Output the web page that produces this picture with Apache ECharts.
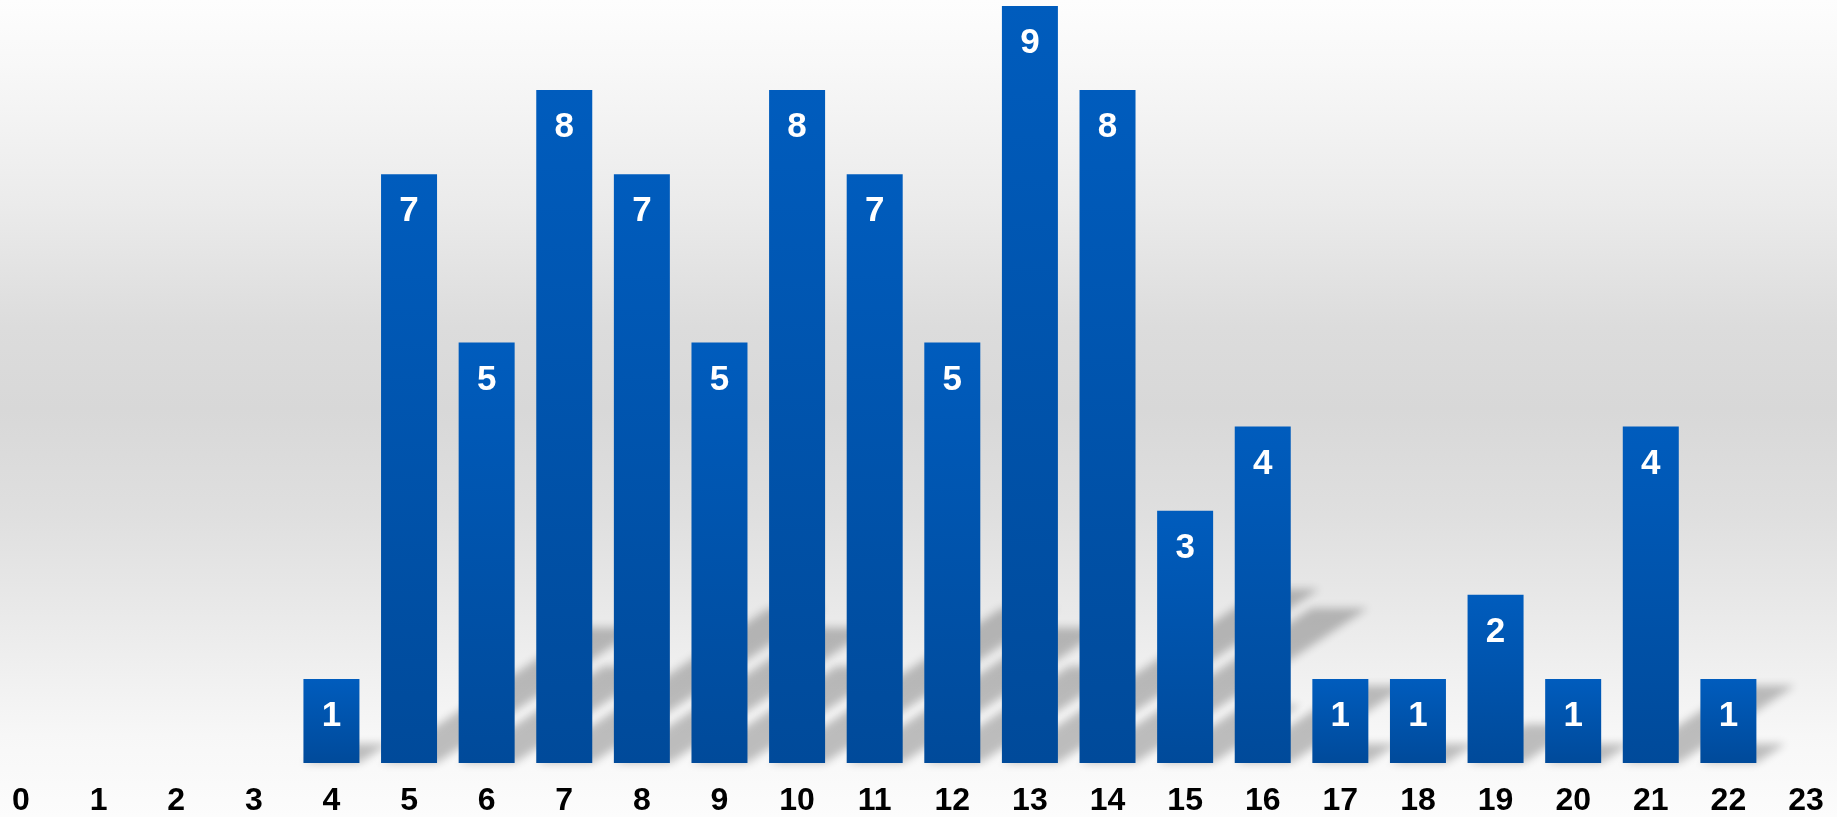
<!DOCTYPE html>
<html>
<head>
<meta charset="utf-8">
<script src="https://cdn.jsdelivr.net/npm/echarts@6/dist/echarts.min.js"></script>
<style>
html,body{margin:0;padding:0;}
#chart{width:1837px;height:817px;
background:linear-gradient(to bottom,#fdfdfd 0%,#f8f8f8 8%,#ebebeb 25%,#dcdcdc 40%,#d8d8d8 50%,#dfdfdf 63%,#ececec 78%,#f7f7f7 90%,#fcfcfc 100%);}
</style>
</head>
<body>
<div id="chart"></div>
<script>
const categories = ['0','1','2','3','4','5','6','7','8','9','10','11','12','13','14','15','16','17','18','19','20','21','22','23'];
const values = [0,0,0,0,1,7,5,8,7,5,8,7,5,9,8,3,4,1,1,2,1,4,1,0];

const BAR_W = 56;
const chart = echarts.init(document.getElementById('chart'), null, {renderer:'canvas'});

function renderShadow(params, api){
  const x = api.value(0), v = api.value(1);
  if (!v) return null;
  const base = api.coord([x, 0]);
  const top = api.coord([x, v]);
  const h = base[1] - top[1];
  const cx = base[0];
  const sh = 0.23 * h, dx = 0.345 * h;
  const OFF = 5000;
  const pts = [
    [cx - BAR_W/2 - OFF, base[1]],
    [cx + BAR_W/2 - OFF, base[1]],
    [cx + BAR_W/2 + dx - OFF, base[1] - sh],
    [cx - BAR_W/2 + dx - OFF, base[1] - sh]
  ];
  return {
    type:'polygon',
    shape:{points:pts},
    style:{fill:'#000', shadowBlur:9, shadowColor:'rgba(0,0,0,0.24)', shadowOffsetX:OFF, shadowOffsetY:0}
  };
}

chart.setOption({
  backgroundColor:'transparent',
  animation:false,
  grid:{left:21, right:31, top:6, bottom:53, containLabel:false},
  xAxis:{
    type:'category', data:categories, boundaryGap:false,
    axisLine:{show:false}, axisTick:{show:false}, splitLine:{show:false},
    axisLabel:{color:'#000', fontSize:32, fontWeight:'bold', fontFamily:'Liberation Sans, Arial, sans-serif', margin:22, interval:0}
  },
  yAxis:{type:'value', min:0, max:9, show:false, splitLine:{show:false}},
  series:[
    {
      type:'custom', z:1, silent:true, clip:false,
      renderItem:renderShadow,
      data: values.map((v,i)=>[i,v])
    },
    {
      type:'bar', z:2, barWidth:BAR_W,
      data: values,
      itemStyle:{color:new echarts.graphic.LinearGradient(0,0,0,1,[{offset:0,color:'#005CBD'},{offset:1,color:'#004A9A'}])},
      label:{show:true, position:'insideTop', distance:20, color:'#fff', fontSize:35, fontWeight:'bold', fontFamily:'Liberation Sans, Arial, sans-serif',
        formatter:p=> p.value ? String(p.value) : ''}
    }
  ]
});
</script>
</body>
</html>
